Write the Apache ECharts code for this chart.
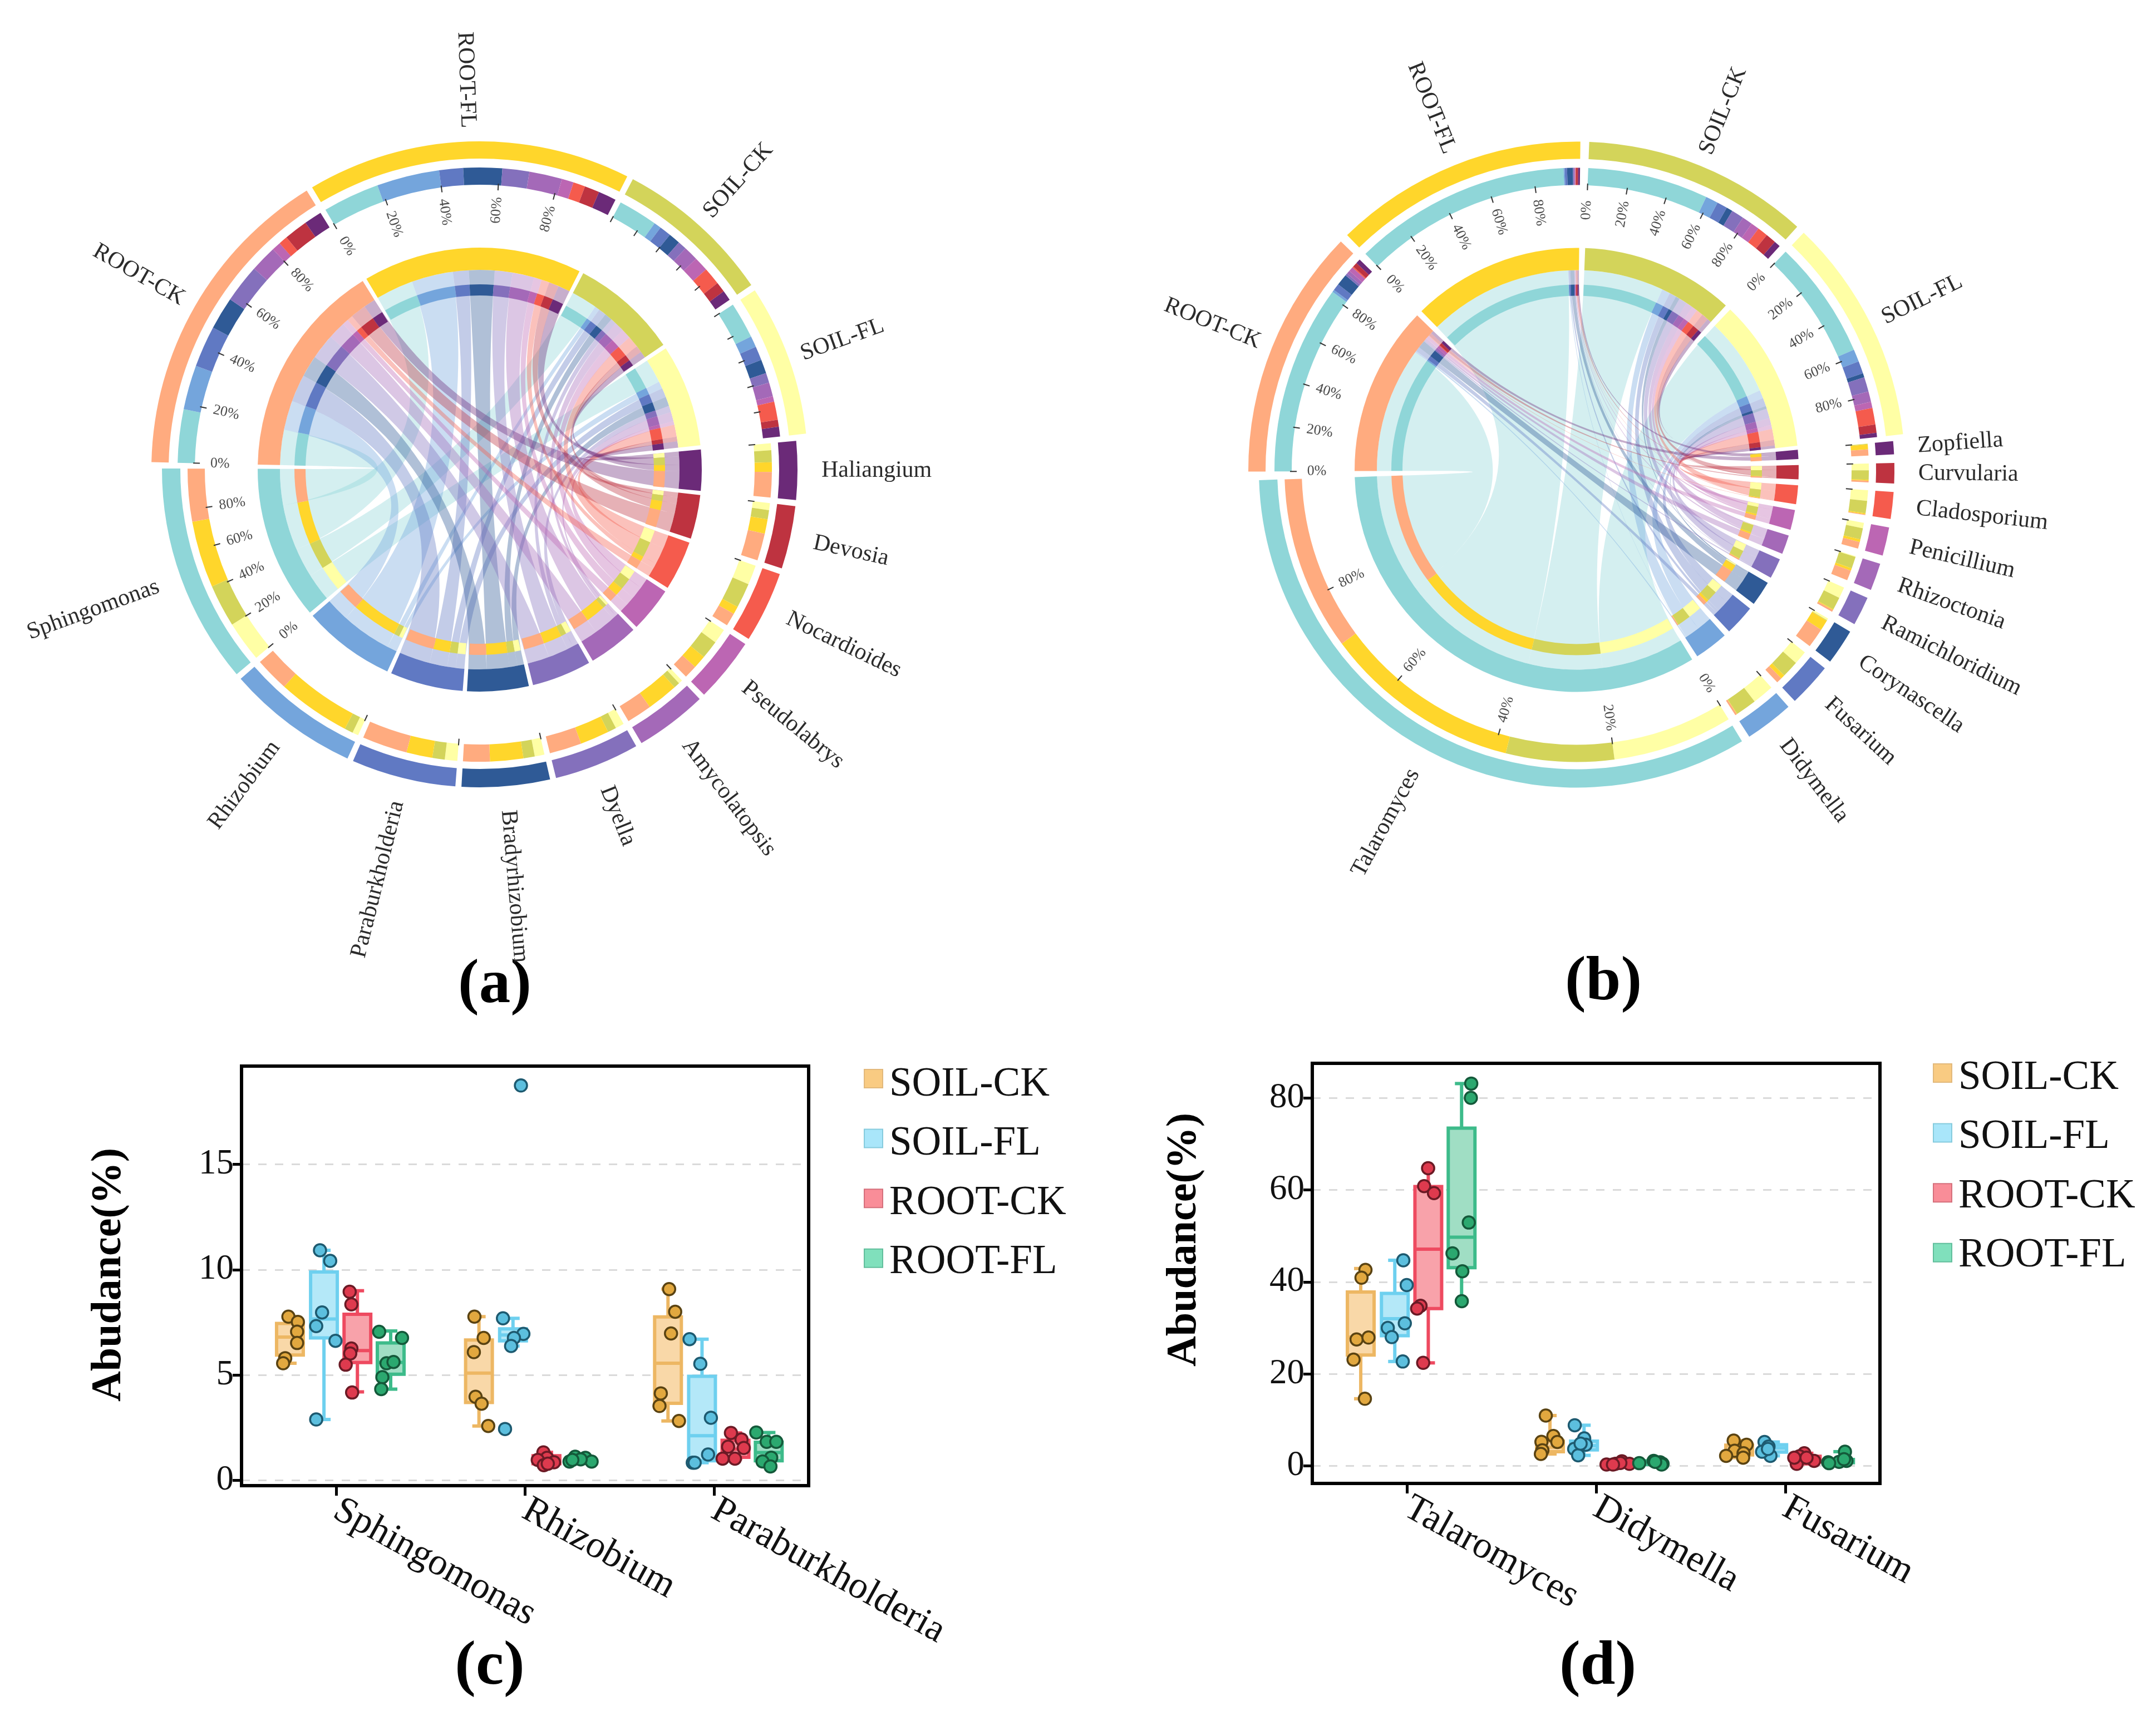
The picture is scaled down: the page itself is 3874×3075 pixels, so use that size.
<!DOCTYPE html>
<html><head><meta charset="utf-8">
<style>html,body{margin:0;padding:0;background:#fff}#c{width:3874px;height:3075px}</style>
<script src="https://cdn.jsdelivr.net/npm/echarts@6/dist/echarts.min.js"></script>
</head><body><div id="c"></div>
<script>
// ---------- chord panels: categories ----------
const samples = ['ROOT-CK','ROOT-FL','SOIL-CK','SOIL-FL'];
const sampleColors = ['#FFAB7F','#FFD62B','#D3D45A','#FFFFA5'];
const taxonColors = ['#8FD6D8','#74A5DC','#6079C3','#2F5A96','#8470BC','#A469B8','#BC66B3','#F55B4D','#BE3340','#6B2A78'];
const taxaA = ['Sphingomonas','Rhizobium','Paraburkholderia','Bradyrhizobium','Dyella','Amycolatopsis','Pseudolabrys','Nocardioides','Devosia','Haliangium'];
const taxaB = ['Talaromyces','Didymella','Fusarium','Corynascella','Ramichloridium','Rhizoctonia','Penicillium','Cladosporium','Curvularia','Zopfiella'];
// sector sizes
const taxonSizeA = [40.3,24.2,19.1,16.1,15.6,13.2,11.8,13.0,11.5,10.7];
const sampleSizeA = [56.9,57.4,28,26.8];
const taxonSizeB = [119.5,8.9,8,6.5,5.3,5,5.2,4.9,3.7,2.4];
const sampleSizeB = [44.4,45,40,40];
// share of each taxon inside each sample (panel a)
const rootCkA = [.18,.15,.14,.11,.13,.09,.03,.03,.08,.06];
const rootFlA = [.19,.21,.08,.13,.09,.11,.04,.04,.05,.06];
const soilCkA = [.27,.05,.08,.08,.06,.10,.10,.12,.07,.07];
const soilFlA = [.26,.08,.10,.10,.07,.10,.04,.13,.05,.07];
// share of each sample inside each taxon, order SOIL-FL, SOIL-CK, ROOT-FL, ROOT-CK (panel a)
const sphingomonasA = [.20,.21,.33,.26];
const rhizobiumA = [.05,.07,.60,.28];
const paraburkholderiaA = [.13,.13,.27,.47];
const bradyrhizobiumA = [.12,.14,.41,.33];
const dyellaA = [.11,.11,.37,.41];
const amycolatopsisA = [.06,.09,.47,.38];
const pseudolabrysA = [.25,.31,.22,.22];
const nocardioidesA = [.30,.38,.12,.20];
const devosiaA = [.12,.16,.25,.47];
const haliangiumA = [.13,.22,.18,.47];
// panel b
const rootCkB = [.82,.01,.03,.05,.01,.015,.02,.005,.02,.02];
const rootFlB = [.93,.005,.01,.025,.004,.004,.002,.002,.01,.008];
const soilCkB = [.58,.06,.05,.03,.06,.05,.04,.05,.05,.03];
const soilFlB = [.57,.06,.06,.02,.07,.05,.03,.08,.04,.02];
const talaromycesB = [.20,.18,.33,.29];
const didymellaB = [.48,.47,.01,.04];
const fusariumB = [.34,.42,.10,.14];
const corynascellaB = [.06,.02,.32,.60];
const ramichloridiumB = [.42,.48,.03,.07];
const rhizoctoniaB = [.03,.47,.10,.40];
const penicilliumB = [.21,.43,.10,.26];
const cladosporiumB = [.43,.50,.04,.03];
const curvulariaB = [.36,.50,.05,.09];
const zopfiellaB = [.03,.05,.40,.52];
const percentTicks = [0,20,40,60,80];

// ---------- box panels: categories and values ----------
const groups = ['SOIL-CK','SOIL-FL','ROOT-CK','ROOT-FL'];
const catsC = ['Sphingomonas','Rhizobium','Paraburkholderia'];
const catsD = ['Talaromyces','Didymella','Fusarium'];
const ticksC = [0,5,10,15];
const ticksD = [0,20,40,60,80];
const boxOffset = [.256,.436,.613,.789];
// [low, q1, median, q3, high] per category
const boxCSoilCk = [[5.56,5.95,6.80,7.45,7.77],[2.58,3.70,5.09,6.66,7.77],[2.82,3.66,5.56,7.76,9.08]];
const boxCSoilFl = [[2.89,6.76,7.66,9.89,10.92],[6.38,6.62,6.90,7.19,7.69],[.84,.93,2.12,4.94,6.70]];
const boxCRootCk = [[4.20,5.59,6.16,7.88,9.00],[.72,.79,.97,1.17,1.33],[1.03,1.10,1.48,1.90,2.25]];
const boxCRootFl = [[4.33,5.04,5.60,6.52,7.09],[.89,.90,1.00,1.08,1.12],[.66,.93,1.32,1.81,2.27]];
const ptsCSoilCk = [[.248,7.77],[.298,7.52],[.294,7.06],[.294,6.52],[.231,5.80],[.220,5.56],[1.232,7.77],[1.281,6.76],[1.229,6.09],[1.238,3.97],[1.270,3.64],[1.305,2.58],[2.262,9.08],[2.294,8.00],[2.272,6.97],[2.218,4.13],[2.211,3.53],[2.314,2.82]];
const ptsCSoilFl = [[.415,10.92],[.469,10.42],[.426,7.97],[.395,7.32],[.497,6.62],[.395,2.89],[1.383,7.69],[1.491,6.95],[1.441,6.76],[1.426,6.38],[1.394,2.44],[1.478,18.74],[2.370,6.70],[2.427,5.53],[2.483,2.97],[2.468,1.23],[2.387,.84],[2.397,.84]];
const ptsCRootCk = [[.572,8.95],[.581,8.35],[.581,6.26],[.575,6.02],[.551,5.49],[.585,4.17],[1.597,1.33],[1.616,1.07],[1.567,.97],[1.653,.86],[1.599,.72],[1.620,.79],[2.589,2.25],[2.645,1.94],[2.657,1.54],[2.574,1.60],[2.545,1.03],[2.610,1.03]];
const ptsCRootFl = [[.728,7.05],[.849,6.76],[.767,5.56],[.804,5.62],[.745,4.90],[.739,4.33],[1.765,1.12],[1.735,.89],[1.819,1.07],[1.852,.89],[1.794,1.00],[1.750,.97],[2.723,2.27],[2.778,1.83],[2.829,1.83],[2.802,1.08],[2.756,.90],[2.798,.66]];
const boxDSoilCk = [[14.6,24.1,28.0,37.8,42.9],[2.6,3.1,4.1,5.4,10.95],[1.8,2.4,3.2,4.5,5.5]];
const boxDSoilFl = [[22.7,28.3,32.0,37.5,44.7],[2.3,3.5,4.4,5.4,8.85],[2.2,3.0,3.9,4.6,5.2]];
const boxDRootCk = [[22.4,34.2,47.1,60.7,64.7],[.3,.35,.5,.8,1.0],[.45,.9,1.5,2.1,2.75]];
const boxDRootFl = [[35.8,43.1,49.7,73.4,83.1],[.3,.45,.7,.95,1.1],[.6,.7,1.0,1.4,3.1]];
const ptsDSoilCk = [[.281,42.6],[.260,40.9],[.234,27.5],[.297,27.9],[.218,23.1],[.278,14.6],[1.234,10.95],[1.274,6.5],[1.295,5.2],[1.211,5.25],[1.216,3.4],[1.208,2.6],[2.227,5.5],[2.295,4.6],[2.232,3.3],[2.279,2.75],[2.187,2.2],[2.277,1.8]];
const ptsDSoilFl = [[.481,44.7],[.499,39.3],[.489,31],[.399,30],[.420,28],[.478,22.7],[1.387,8.85],[1.437,6.0],[1.445,4.6],[1.384,3.7],[1.405,2.3],[1.418,4.85],[2.390,5.2],[2.411,4.2],[2.398,3.4],[2.421,2.2],[2.377,3.1],[2.408,3.7]];
const ptsDRootCk = [[.612,64.7],[.591,60.8],[.643,59.3],[.572,34.8],[.554,34.2],[.586,22.4],[1.555,.3],[1.602,.45],[1.636,1.0],[1.676,.45],[1.628,.65],[1.589,.3],[2.60,2.75],[2.574,2.1],[2.652,1.1],[2.56,.45],[2.612,1.8],[2.547,1.8]];
const ptsDRootFl = [[.840,83.1],[.838,80],[.827,52.9],[.741,46.2],[.793,42.3],[.790,35.8],[1.728,.6],[1.804,1.1],[1.838,.8],[1.851,.45],[1.846,.3],[1.812,.9],[2.815,3.1],[2.823,1.1],[2.726,.8],[2.784,.9],[2.81,1.45],[2.731,.6]];

const SERIF = '"Liberation Serif","Times New Roman",serif';
const D2R = Math.PI/180;

function buildChord(cfg){
  const {cx,cy,taxa,taxonSize,sampleSize,sampleShare,taxonShare,start,gap,labelled,tickOnly} = cfg;
  const n = taxa.length;
  const P = (deg,r)=>[cx+r*Math.cos(deg*D2R), cy+r*Math.sin(deg*D2R)];
  const f = p=>p[0].toFixed(2)+' '+p[1].toFixed(2);
  // clockwise ring: taxa reversed, then samples
  let a = start; const taxonSec = new Array(n); const sampleSec = [];
  for(let i=n-1;i>=0;i--){ taxonSec[i]=[a,a+taxonSize[i]]; a+=taxonSize[i]+gap; }
  for(let s=0;s<4;s++){ sampleSec[s]=[a,a+sampleSize[s]]; a+=sampleSize[s]+gap; }
  // sub-segments
  const sampleSeg = sampleSec.map((sec,s)=>{ let c=sec[0]; const w=sec[1]-sec[0];
    return sampleShare[s].map(v=>{ const o=[c,c+v*w]; c+=v*w; return o; }); });
  const taxonSeg = taxonSec.map((sec,t)=>{ let c=sec[0]; const w=sec[1]-sec[0]; const out=[];
    [3,2,1,0].forEach((s,k)=>{ out[s]=[c,c+taxonShare[t][k]*w]; c+=taxonShare[t][k]*w; }); return out; });
  const R = {in1:399,in0:359,ring1:333,ring0:313,
    upA:590,upB:559,upC:543,upD:512, loA:571,loB:538,loC:525,loD:494};
  const k = 0.36, rb = R.in0;
  const ribbons=[], arcs=[], texts=[], ticks=[];
  for(let t=0;t<n;t++) for(let s=3;s>=0;s--){
    const A=sampleSeg[s][t], T=taxonSeg[t][s];
    const d = 'M'+f(P(A[0],rb))+' A'+rb+' '+rb+' 0 0 1 '+f(P(A[1],rb))
      +' C'+f(P(A[1],rb*k))+' '+f(P(T[0],rb*k))+' '+f(P(T[0],rb))
      +' A'+rb+' '+rb+' 0 0 1 '+f(P(T[1],rb))
      +' C'+f(P(T[1],rb*k))+' '+f(P(A[0],rb*k))+' '+f(P(A[0],rb))+' Z';
    ribbons.push({d,fill:taxonColors[t]});
  }
  const arc=(a0,a1,r,r0,fill)=>arcs.push({cx,cy,r,r0,a0:a0*D2R,a1:a1*D2R,fill});
  taxa.forEach((name,t)=>{
    const sec=taxonSec[t];
    arc(sec[0],sec[1],R.in1,R.in0,taxonColors[t]);
    arc(sec[0],sec[1],R.loA,R.loB,taxonColors[t]);
    [3,2,1,0].forEach(s=>{ const g=taxonSeg[t][s];
      arc(g[0],g[1],R.ring1,R.ring0,sampleColors[s]);
      arc(g[0],g[1],R.loC,R.loD,sampleColors[s]); });
    addLabel(name,sec);
    addTicks(sec,R.loD,labelled.includes(name),labelled.includes(name)||tickOnly.includes(name));
  });
  samples.forEach((name,s)=>{
    const sec=sampleSec[s];
    arc(sec[0],sec[1],R.in1,R.in0,sampleColors[s]);
    arc(sec[0],sec[1],R.upA,R.upB,sampleColors[s]);
    sampleSeg[s].forEach((g,t)=>{ arc(g[0],g[1],R.ring1,R.ring0,taxonColors[t]);
      arc(g[0],g[1],R.upC,R.upD,taxonColors[t]); });
    addLabel(name,sec);
    addTicks(sec,R.upD,labelled.includes(name),labelled.includes(name)||tickOnly.includes(name));
  });
  function orient(th){
    const m=((th%360)+360)%360;
    const inward = m>90 && m<270;
    return {inward, rot: inward ? (180-m)*D2R : -m*D2R};
  }
  function addLabel(name,sec){
    const th=(sec[0]+sec[1])/2, o=orient(th), p=P(th,614);
    texts.push({x:p[0],y:p[1],rot:o.rot,text:name,align:o.inward?'right':'left',size:42,fill:'#2b2b2b'});
  }
  function addTicks(sec,rIn,withLabel,all){
    const w=sec[1]-sec[0];
    percentTicks.forEach(v=>{
      if(v>0&&!all) return;
      const th=sec[0]+w*v/100;
      const p0=P(th,rIn+3),p1=P(th,rIn-9);
      ticks.push({x1:p0[0],y1:p0[1],x2:p1[0],y2:p1[1]});
      if(withLabel){ const o=orient(th),p=P(th,rIn-45);
        texts.push({x:p[0],y:p[1],rot:o.rot,text:v+'%',align:'center',size:26,fill:'#4a4a4a'}); }
    });
  }
  const none={coordinateSystem:'none',silent:true,tooltip:{show:false}};
  return [
    {type:'custom',...none,z:1,data:ribbons.map((_,i)=>i),renderItem:(p)=>{const r=ribbons[p.dataIndex];
      return {type:'path',shape:{pathData:r.d},style:{fill:r.fill,opacity:.38}};}},
    {type:'custom',...none,z:2,data:arcs.map((_,i)=>i),renderItem:(p)=>{const a=arcs[p.dataIndex];
      return {type:'sector',shape:{cx:a.cx,cy:a.cy,r:a.r,r0:a.r0,startAngle:a.a0,endAngle:a.a1,clockwise:true},style:{fill:a.fill}};}},
    {type:'custom',...none,z:3,data:ticks.map((_,i)=>i),renderItem:(p)=>{const t=ticks[p.dataIndex];
      return {type:'line',shape:{x1:t.x1,y1:t.y1,x2:t.x2,y2:t.y2},style:{stroke:'#333',lineWidth:2}};}},
    {type:'custom',...none,z:4,data:texts.map((_,i)=>i),renderItem:(p)=>{const t=texts[p.dataIndex];
      return {type:'text',x:t.x,y:t.y,rotation:t.rot,style:{text:t.text,fontSize:t.size,fontFamily:SERIF,fill:t.fill,align:t.align,verticalAlign:'middle'}};}}
  ];
}

const chordA = buildChord({cx:862,cy:844,taxa:taxaA,taxonSize:taxonSizeA,sampleSize:sampleSizeA,
  sampleShare:[rootCkA,rootFlA,soilCkA,soilFlA],
  taxonShare:[sphingomonasA,rhizobiumA,paraburkholderiaA,bradyrhizobiumA,dyellaA,amycolatopsisA,pseudolabrysA,nocardioidesA,devosiaA,haliangiumA],
  start:-5.2,gap:1.1,labelled:['Sphingomonas','ROOT-CK','ROOT-FL'],tickOnly:['SOIL-CK','SOIL-FL']});
const chordB = buildChord({cx:2833,cy:844.5,taxa:taxaB,taxonSize:taxonSizeB,sampleSize:sampleSizeB,
  sampleShare:[rootCkB,rootFlB,soilCkB,soilFlB],
  taxonShare:[talaromycesB,didymellaB,fusariumB,corynascellaB,ramichloridiumB,rhizoctoniaB,penicilliumB,cladosporiumB,curvulariaB,zopfiellaB],
  start:-5.2,gap:1.55,labelled:['Talaromyces','ROOT-CK','ROOT-FL','SOIL-CK','SOIL-FL'],tickOnly:[]});

// ---------- box series ----------
const boxStroke = ['#EDB763','#6ED0EF','#EE4A60','#3DBB8A'];
const boxFill = ['#F9D8A8','#B4E8F8','#F8A2AA','#A0DEC4'];
const ptFill = ['#E2A83F','#5CBFDE','#DE3A4E','#2BA86F'];
const ptStroke = ['#5a4312','#1d5a70','#6b1a25','#14593a'];
function boxSeries(boxes,pts,g,xi,yi){
  const name=groups[g];
  return [{
    type:'custom',name,xAxisIndex:xi,yAxisIndex:yi,z:3,silent:true,itemStyle:{color:boxFill[g]},
    encode:{x:0,y:[1,2,3,4,5]},
    data:boxes.map((b,i)=>[i+boxOffset[g],...b]),
    renderItem:(params,api)=>{
      const u=api.value(0), C=v=>api.coord([u,v]);
      const lo=C(api.value(1)),q1=C(api.value(2)),med=C(api.value(3)),q3=C(api.value(4)),hi=C(api.value(5));
      const w=48,cap=24,x=lo[0],st={stroke:boxStroke[g],lineWidth:6};
      const L=(x1,y1,x2,y2)=>({type:'line',shape:{x1,y1,x2,y2},style:st});
      return {type:'group',children:[
        L(x,hi[1],x,q3[1]),L(x,q1[1],x,lo[1]),
        L(x-cap/2,hi[1],x+cap/2,hi[1]),L(x-cap/2,lo[1],x+cap/2,lo[1]),
        {type:'rect',shape:{x:x-w/2,y:q3[1],width:w,height:q1[1]-q3[1]},style:{fill:boxFill[g],stroke:boxStroke[g],lineWidth:6}},
        L(x-w/2,med[1],x+w/2,med[1])
      ]};
    }
  },{
    type:'scatter',name,xAxisIndex:xi,yAxisIndex:yi,z:4,silent:true,symbolSize:22,data:pts,
    itemStyle:{color:ptFill[g],borderColor:ptStroke[g],borderWidth:3.5,opacity:1}
  }];
}
const boxC=[boxCSoilCk,boxCSoilFl,boxCRootCk,boxCRootFl], ptsC=[ptsCSoilCk,ptsCSoilFl,ptsCRootCk,ptsCRootFl];
const boxD=[boxDSoilCk,boxDSoilFl,boxDRootCk,boxDRootFl], ptsD=[ptsDSoilCk,ptsDSoilFl,ptsDRootCk,ptsDRootFl];
let series=[...chordA,...chordB];
groups.forEach((_,g)=>{ series=series.concat(boxSeries(boxC[g],ptsC[g],g,1,0)); });
groups.forEach((_,g)=>{ series=series.concat(boxSeries(boxD[g],ptsD[g],g,3,1)); });

const catAxis=(cats,gi)=>({type:'category',gridIndex:gi,data:cats,
  axisLine:{show:true,onZero:false,lineStyle:{color:'#000',width:6}},
  axisTick:{show:true,alignWithLabel:true,length:18,lineStyle:{color:'#000',width:5}},
  axisLabel:{interval:0,rotate:-29,fontSize:68,fontFamily:SERIF,color:'#111',margin:40,hideOverlap:false}});
const hiddenX=gi=>({type:'value',gridIndex:gi,min:0,max:3,show:false,axisLine:{onZero:false},splitLine:{show:false}});
const valAxis=(gi,min,max,ticks)=>({type:'value',gridIndex:gi,min,max,
  axisLine:{show:true,onZero:false,lineStyle:{color:'#000',width:6}},
  axisTick:{show:true,length:16,customValues:ticks,lineStyle:{color:'#000',width:5}},
  axisLabel:{fontSize:63,fontFamily:SERIF,color:'#111',margin:14,customValues:ticks,showMinLabel:true,showMaxLabel:true},
  splitLine:{show:true,lineStyle:{color:'#DADADA',width:3,type:[15,15]}}});
const legendData=[
  {name:'SOIL-CK',icon:'rect',itemStyle:{color:'#F9CB82',borderColor:'#E2B97C',borderWidth:2,opacity:1}},
  {name:'SOIL-FL',icon:'rect',itemStyle:{color:'#A9E6FA',borderColor:'#86CBDD',borderWidth:2,opacity:1}},
  {name:'ROOT-CK',icon:'rect',itemStyle:{color:'#F98D98',borderColor:'#D5707C',borderWidth:2,opacity:1}},
  {name:'ROOT-FL',icon:'rect',itemStyle:{color:'#80E0BC',borderColor:'#62BE9C',borderWidth:2,opacity:1}}];
// swatches and names are laid out by two legends, because the names sit a little below the swatch centres
const legendIcons=(left,top)=>({orient:'vertical',left,top,padding:0,itemWidth:33,itemHeight:33,itemGap:72.6,selectedMode:false,
  data:legendData,formatter:()=>' ',textStyle:{fontSize:10,lineHeight:10,padding:0}});
const legendNames=(left,top)=>({orient:'vertical',left,top,padding:0,itemWidth:33,itemHeight:33,itemGap:33.6,selectedMode:false,
  data:legendData.map(d=>({name:d.name,icon:'rect',itemStyle:{opacity:0,borderWidth:0}})),
  textStyle:{fontSize:73,lineHeight:72,fontFamily:SERIF,color:'#111',padding:[0,0,0,8]}});
const bigText=(text,x,y)=>({type:'text',x,y,style:{text,fontSize:113,fontWeight:'bold',fontFamily:SERIF,fill:'#000',align:'center',verticalAlign:'middle'}});
const yName=(x,y)=>({type:'text',x,y,rotation:Math.PI/2,style:{text:'Abudance(%)',fontSize:76,fontWeight:'bold',fontFamily:SERIF,fill:'#000',align:'center',verticalAlign:'middle'}});

const chart=echarts.init(document.getElementById('c'),null,{renderer:'canvas',width:3874,height:3075});
chart.setOption({
  animation:false,backgroundColor:'#fff',
  grid:[
    {left:434,top:1916,width:1019,height:754,show:true,borderColor:'#000',borderWidth:6,backgroundColor:'transparent'},
    {left:2358,top:1911,width:1020,height:755,show:true,borderColor:'#000',borderWidth:6,backgroundColor:'transparent'}],
  xAxis:[catAxis(catsC,0),hiddenX(0),catAxis(catsD,1),hiddenX(1)],
  yAxis:[valAxis(0,-0.25,19.66,ticksC),valAxis(1,-3.8,87.5,ticksD)],
  legend:[legendIcons(1552,1921),legendNames(1552,1913),legendIcons(3473,1911),legendNames(3473,1901)],
  graphic:{elements:[bigText('(a)',889,1772),bigText('(b)',2881,1767),bigText('(c)',880,2997),bigText('(d)',2871,2997),yName(196,2291),yName(2128,2228)]},
  series
});
</script></body></html>
